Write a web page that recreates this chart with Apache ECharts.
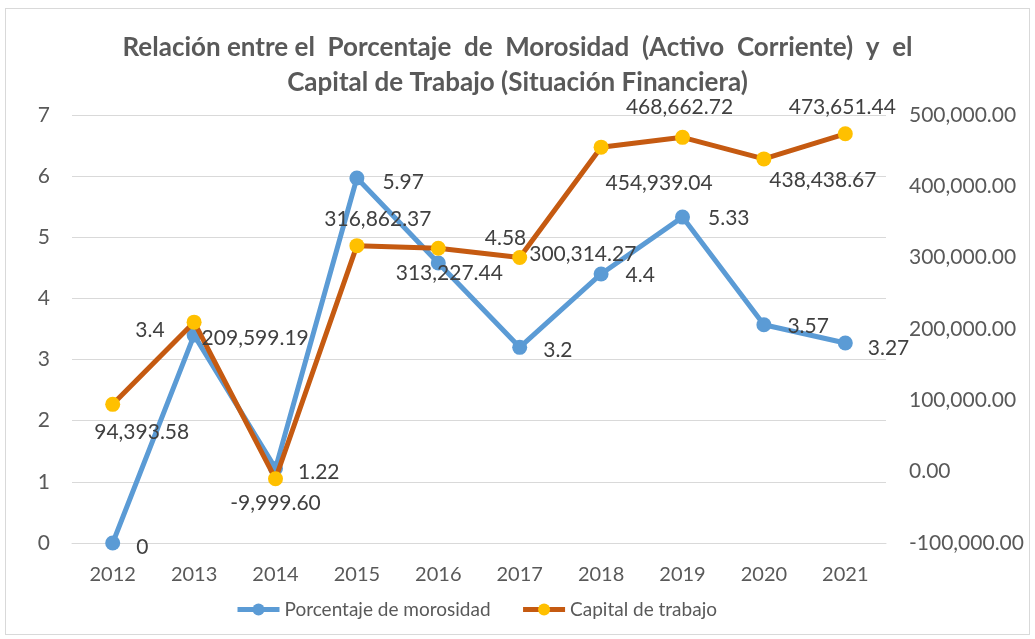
<!DOCTYPE html>
<html>
<head>
<meta charset="utf-8">
<script src="https://cdn.jsdelivr.net/npm/echarts@6/dist/echarts.min.js"></script>
<style>
  html, body { margin: 0; padding: 0; background: #fff; }
  #frame { position: absolute; left: 5px; top: 8px; width: 1025px; height: 627px; border: 1px solid #d9d9d9; box-sizing: border-box; }
  #chart { position: absolute; left: 0; top: 0; width: 1035px; height: 639px; }
</style>
</head>
<body>
<div id="frame"></div>
<div id="chart"></div>
<script>
// datos
const years = ['2012', '2013', '2014', '2015', '2016', '2017', '2018', '2019', '2020', '2021']
const morosidad = [0, 3.4, 1.22, 5.97, 4.58, 3.2, 4.4, 5.33, 3.57, 3.27]
const capital = [94393.58, 209599.19, -9999.60, 316862.37, 313227.44, 300314.27, 454939.04, 468662.72, 438438.67, 473651.44]

// posición de cada etiqueta (como en el original)
const morosidadLabelPos = ['right', 'left', 'right', 'right', 'right', 'right', 'right', 'right', 'right', 'right']
const morosidadLabelOffset = [[8, 4], [-14, -5], [7, 4], [10, 4], [31, -25], [8, 3], [9, 1], [10, 1], [8, 2], [7, 5]]
const capitalLabelPos = ['bottom', 'right', 'bottom', 'top', 'bottom', 'right', 'bottom', 'top', 'bottom', 'top']
const capitalLabelOffset = [[29, 2], [-8, 16], [0, -2], [21, 0], [11, -1], [-6, -3], [58, 10], [-3, -4], [59, -5], [-3, -1]]

const fmt = (v) => v.toLocaleString('en-US', { minimumFractionDigits: 2, maximumFractionDigits: 2 })

const chart = echarts.init(document.getElementById('chart'))
const font = 'Lato, "Open Sans", sans-serif'

const option = {
  animation: false,
  textStyle: { fontFamily: font },
  title: {
    text: 'Relación entre el  Porcentaje  de  Morosidad  (Activo  Corriente)  y  el\nCapital de Trabajo (Situación Financiera)',
    left: 'center',
    top: 25,
    textStyle: { fontFamily: font, fontSize: 26, fontWeight: 'bold', color: '#595959', lineHeight: 35 },
  },
  legend: {
    bottom: 15,
    left: 230,
    itemWidth: 42,
    itemHeight: 15,
    itemGap: 30,
    lineStyle: { width: 5 },
    textStyle: { fontSize: 19, color: '#595959', fontFamily: font },
    data: ['Porcentaje de morosidad', 'Capital de trabajo'],
  },
  grid: { left: 72, right: 149, top: 115, bottom: 96 },
  xAxis: {
    type: 'category',
    data: years,
    boundaryGap: true,
    axisLine: { show: true, lineStyle: { color: '#d9d9d9' } },
    axisTick: { show: false },
    axisLabel: { fontSize: 20, color: '#595959', margin: 22 },
  },
  yAxis: [
    {
      type: 'value',
      min: 0, max: 7, interval: 1,
      axisLine: { show: false },
      axisTick: { show: false },
      splitLine: { lineStyle: { color: '#d9d9d9' } },
      axisLabel: { fontSize: 21, color: '#595959', margin: 22 },
    },
    {
      type: 'value',
      min: -100000, max: 500000, interval: 100000,
      axisLine: { show: false },
      axisTick: { show: false },
      splitLine: { show: false },
      axisLabel: { fontSize: 21, color: '#595959', margin: 23, formatter: fmt },
    },
  ],
  series: [
    {
      name: 'Porcentaje de morosidad',
      type: 'line',
      yAxisIndex: 0,
      symbol: 'circle',
      symbolSize: 15,
      lineStyle: { width: 5, color: '#5B9BD5' },
      itemStyle: { color: '#5B9BD5' },
      data: morosidad.map((v, i) => ({
        value: v,
        label: { show: true, position: morosidadLabelPos[i], offset: morosidadLabelOffset[i], distance: 8 },
      })),
      label: { fontSize: 21, color: '#404040', fontFamily: font },
      z: 2,
    },
    {
      name: 'Capital de trabajo',
      type: 'line',
      yAxisIndex: 1,
      symbol: 'circle',
      symbolSize: 15,
      lineStyle: { width: 5, color: '#C55A11' },
      itemStyle: { color: '#FFC000' },
      data: capital.map((v, i) => ({
        value: v,
        label: { show: true, position: capitalLabelPos[i], offset: capitalLabelOffset[i], distance: 8, formatter: () => fmt(v) },
      })),
      label: { fontSize: 21, color: '#404040', fontFamily: font },
      z: 3,
    },
  ],
}

chart.setOption(option)
</script>
</body>
</html>
